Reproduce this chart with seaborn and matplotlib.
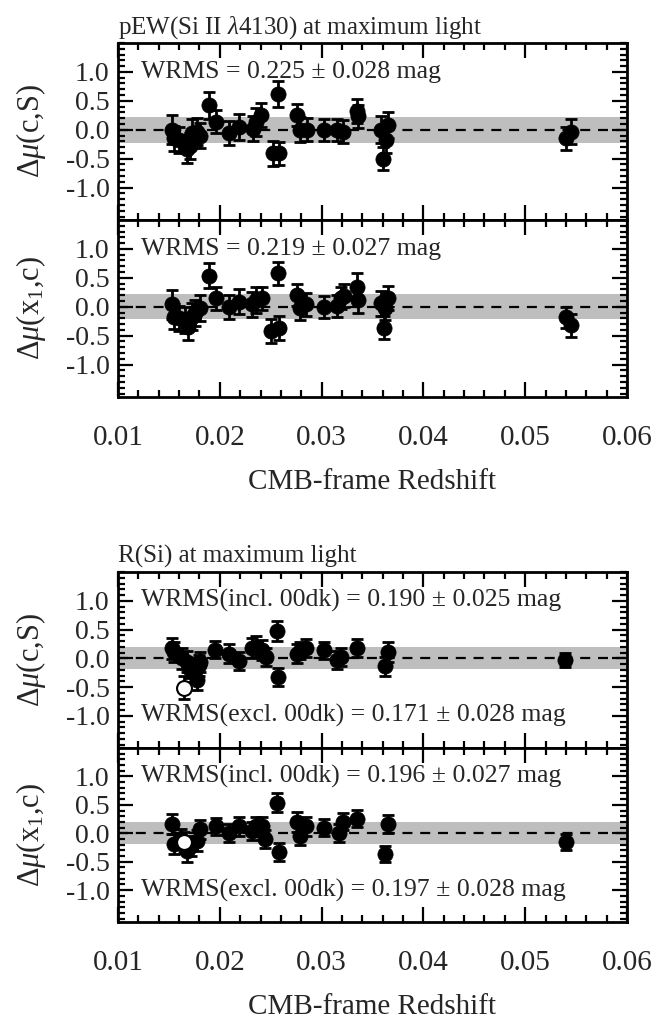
#!/usr/bin/python3

import numpy as np
import pandas as pd
import seaborn as sns
import matplotlib
matplotlib.use("Agg")
import matplotlib.pyplot as plt
import matplotlib.transforms as mtransforms
from matplotlib.ticker import MultipleLocator

sns.set_theme(style="ticks")
plt.rcParams['font.family'] = ['Liberation Serif', 'DejaVu Serif']
plt.rcParams['mathtext.fontset'] = 'custom'
plt.rcParams['mathtext.rm'] = 'Liberation Serif'
plt.rcParams['mathtext.it'] = 'Liberation Serif:italic'
plt.rcParams['axes.unicode_minus'] = False

# --- data ---
# pEW(Si II 4130), mu(c,S)
z_pew_cs = [0.0153, 0.0155, 0.0160, 0.0168, 0.0171, 0.0173, 0.0178, 0.0181, 0.0189, 0.0196,
            0.0209, 0.0219, 0.0233, 0.0236, 0.0240, 0.0252, 0.0257, 0.0258, 0.0276, 0.0279,
            0.0286, 0.0302, 0.0315, 0.0321, 0.0335, 0.0336, 0.0358, 0.0360, 0.0363, 0.0365,
            0.0540, 0.0545]
dmu_pew_cs = [0.00, -0.15, -0.18, -0.33, -0.28, -0.06, -0.03, -0.10, 0.42, 0.14,
              -0.06, 0.05, 0.02, 0.14, 0.26, -0.41, 0.62, -0.41, 0.26, 0.00,
              0.00, 0.00, 0.00, -0.03, 0.32, 0.23, 0.00, -0.50, -0.18, 0.08,
              -0.15, -0.03]
err_pew_cs = [0.25, 0.22, 0.22, 0.24, 0.22, 0.25, 0.24, 0.22, 0.23, 0.20,
              0.21, 0.22, 0.22, 0.24, 0.21, 0.21, 0.22, 0.20, 0.19, 0.22,
              0.20, 0.19, 0.19, 0.20, 0.21, 0.20, 0.23, 0.20, 0.22, 0.22,
              0.20, 0.22]

# pEW(Si II 4130), mu(x1,c)
z_pew_xc = [0.0153, 0.0155, 0.0160, 0.0166, 0.0169, 0.0173, 0.0176, 0.0181, 0.0189, 0.0196,
            0.0209, 0.0219, 0.0232, 0.0236, 0.0241, 0.0250, 0.0257, 0.0258, 0.0276, 0.0279,
            0.0285, 0.0302, 0.0315, 0.0319, 0.0322, 0.0335, 0.0336, 0.0358, 0.0361, 0.0362,
            0.0365, 0.0540, 0.0545]
dmu_pew_xc = [0.04, -0.17, -0.20, -0.23, -0.35, -0.17, -0.11, -0.02, 0.54, 0.15,
              0.00, 0.09, 0.04, 0.12, 0.15, -0.42, 0.58, -0.37, 0.21, -0.02,
              0.04, 0.00, 0.01, 0.15, 0.19, 0.35, 0.12, 0.06, -0.36, -0.02,
              0.15, -0.18, -0.32]
err_pew_xc = [0.25, 0.22, 0.22, 0.22, 0.22, 0.24, 0.22, 0.22, 0.22, 0.20,
              0.21, 0.22, 0.22, 0.22, 0.20, 0.21, 0.20, 0.21, 0.19, 0.21,
              0.20, 0.19, 0.19, 0.19, 0.20, 0.23, 0.22, 0.22, 0.20, 0.21,
              0.21, 0.18, 0.20]

# R(Si), mu(c,S)
z_rsi_cs = [0.0153, 0.0155, 0.0163, 0.0168, 0.0171, 0.0175, 0.0178, 0.0180, 0.0181, 0.0195,
            0.0209, 0.0219, 0.0232, 0.0236, 0.0241, 0.0245, 0.0256, 0.0257, 0.0276, 0.0279,
            0.0285, 0.0302, 0.0315, 0.0319, 0.0335, 0.0362, 0.0365, 0.0539]
dmu_rsi_cs = [0.17, 0.11, 0.00, -0.06, -0.18, -0.24, -0.38, -0.12, -0.06, 0.15,
              0.08, -0.05, 0.18, 0.20, 0.14, 0.02, 0.47, -0.33, 0.08, 0.13,
              0.18, 0.14, -0.03, 0.02, 0.18, -0.14, 0.11, -0.03]
err_rsi_cs = [0.18, 0.17, 0.18, 0.18, 0.17, 0.18, 0.18, 0.18, 0.17, 0.15,
              0.16, 0.16, 0.17, 0.18, 0.17, 0.16, 0.17, 0.16, 0.16, 0.15,
              0.15, 0.15, 0.15, 0.15, 0.15, 0.16, 0.17, 0.13]
z_00dk = [0.0165]
dmu_00dk_cs = [-0.51]
err_00dk_cs = [0.20]

# R(Si), mu(x1,c)
z_rsi_xc = [0.0153, 0.0155, 0.0162, 0.0168, 0.0172, 0.0178, 0.0181, 0.0196, 0.0209, 0.0219,
            0.0232, 0.0236, 0.0241, 0.0244, 0.0256, 0.0258, 0.0276, 0.0279, 0.0285, 0.0302,
            0.0317, 0.0321, 0.0335, 0.0362, 0.0365, 0.0540]
dmu_rsi_xc = [0.16, -0.19, -0.10, -0.31, -0.22, -0.13, 0.07, 0.12, 0.01, 0.12,
              0.04, 0.12, 0.12, -0.10, 0.54, -0.33, 0.20, -0.05, 0.12, 0.10,
              0.01, 0.20, 0.26, -0.37, 0.16, -0.15]
err_rsi_xc = [0.18, 0.18, 0.18, 0.19, 0.18, 0.18, 0.17, 0.15, 0.16, 0.17,
              0.16, 0.17, 0.17, 0.16, 0.16, 0.16, 0.17, 0.16, 0.16, 0.15,
              0.16, 0.15, 0.15, 0.14, 0.16, 0.14]
dmu_00dk_xc = [-0.15]
err_00dk_xc = [0.18]

wrms_band = [0.225, 0.219, 0.190, 0.196]

FS_TICK_X = 21
FS_TICK_Y = 20
FS_LAB = 21
FS_YLAB = 22
FS_TXT = 18.5
FS_TITLE = 18


def style_axis(ax, show_xlabels):
  ax.set_xlim(0.01, 0.06)
  ax.set_ylim(-1.56, 1.5)
  ax.xaxis.set_major_locator(MultipleLocator(0.01))
  ax.xaxis.set_minor_locator(MultipleLocator(0.002))
  ax.yaxis.set_major_locator(MultipleLocator(0.5))
  ax.yaxis.set_minor_locator(MultipleLocator(0.1))
  ax.set_yticks([-1.0, -0.5, 0.0, 0.5, 1.0])
  ax.set_yticklabels(['-1.0', '-0.5', '0.0', '0.5', '1.0'])
  ax.tick_params(which='both', direction='in', top=True, right=True, width=1.6, color='black')
  ax.tick_params(which='major', length=11)
  ax.tick_params(which='minor', length=5)
  ax.tick_params(axis='y', labelsize=FS_TICK_Y, pad=6)
  ax.tick_params(axis='x', labelsize=FS_TICK_X, pad=20)
  for s in ax.spines.values():
    s.set_linewidth(2)
    s.set_color('black')
  if show_xlabels:
    ax.set_xticks([0.01, 0.02, 0.03, 0.04, 0.05, 0.06])
    ax.set_xticklabels(['0.01', '0.02', '0.03', '0.04', '0.05', '0.06'])
    ax.set_xlabel('CMB-frame Redshift', fontsize=FS_LAB, labelpad=13)
  else:
    ax.tick_params(axis='x', labelbottom=False)
    ax.set_xlabel('')


def draw_panel(ax, z, dmu, err, band, ylabel, open_pt=None):
  ax.axhspan(-band, band, color='#bebebe', lw=0, zorder=0)
  ax.axhline(0, color='black', lw=1.6, dashes=(4.5, 3.5), zorder=1)
  ax.errorbar(z, dmu, yerr=err, fmt='none', ecolor='black', elinewidth=2,
              capsize=4, capthick=2, zorder=2)
  df = pd.DataFrame({'z': z, 'dmu': dmu})
  sns.scatterplot(data=df, x='z', y='dmu', ax=ax, color='black', s=120,
                  edgecolor='black', linewidth=0.5, zorder=3, legend=False)
  if open_pt is not None:
    oz, oy, oe = open_pt
    ax.errorbar(oz, oy, yerr=oe, fmt='none', ecolor='black', elinewidth=2,
                capsize=4, capthick=2, zorder=4)
    ax.scatter(oz, oy, s=115, facecolor='white', edgecolor='black', linewidth=1.5, zorder=5)
  ax.set_ylabel(ylabel, fontsize=FS_YLAB)


def wrms_text(ax, y, s):
  trans = mtransforms.blended_transform_factory(ax.transAxes, ax.transData)
  ax.text(0.045, y, s, transform=trans, fontsize=FS_TXT, va='center', ha='left', zorder=6)


fig = plt.figure(figsize=(6.59, 10.25), dpi=100)
L, W = 118 / 659, 509 / 659

ax1 = fig.add_axes([L, 1 - 220 / 1025, W, 177 / 1025])
ax2 = fig.add_axes([L, 1 - 397 / 1025, W, 177 / 1025])
ax3 = fig.add_axes([L, 1 - 748 / 1025, W, 176 / 1025])
ax4 = fig.add_axes([L, 1 - 922 / 1025, W, 174 / 1025])

ylab_cs = '\u0394$\\mu$(c,S)'
ylab_xc = '\u0394$\\mu$(x$_1$,c)'

draw_panel(ax1, z_pew_cs, dmu_pew_cs, err_pew_cs, wrms_band[0], ylab_cs)
draw_panel(ax2, z_pew_xc, dmu_pew_xc, err_pew_xc, wrms_band[1], ylab_xc)
draw_panel(ax3, z_rsi_cs, dmu_rsi_cs, err_rsi_cs, wrms_band[2], ylab_cs,
           open_pt=(z_00dk, dmu_00dk_cs, err_00dk_cs))
draw_panel(ax4, z_rsi_xc, dmu_rsi_xc, err_rsi_xc, wrms_band[3], ylab_xc,
           open_pt=(z_00dk, dmu_00dk_xc, err_00dk_xc))

style_axis(ax1, False)
style_axis(ax2, True)
style_axis(ax3, False)
style_axis(ax4, True)

for ax in (ax1, ax2, ax3, ax4):
  ax.yaxis.set_label_coords(-0.205, 0.5)
  ax.yaxis.label.set_verticalalignment('top')

wrms_text(ax1, 1.0, 'WRMS = 0.225 \u00b1 0.028 mag')
wrms_text(ax2, 1.0, 'WRMS = 0.219 \u00b1 0.027 mag')
wrms_text(ax3, 1.0, 'WRMS(incl. 00dk) = 0.190 \u00b1 0.025 mag')
wrms_text(ax3, -1.0, 'WRMS(excl. 00dk) = 0.171 \u00b1 0.028 mag')
wrms_text(ax4, 1.0, 'WRMS(incl. 00dk) = 0.196 \u00b1 0.027 mag')
wrms_text(ax4, -1.0, 'WRMS(excl. 00dk) = 0.197 \u00b1 0.028 mag')

ax1.set_title('pEW(Si II $\\lambda$4130) at maximum light', loc='left', fontsize=FS_TITLE, pad=7)
ax3.set_title('R(Si) at maximum light', loc='left', fontsize=FS_TITLE, pad=7)

fig.savefig('out.png', dpi=100)
